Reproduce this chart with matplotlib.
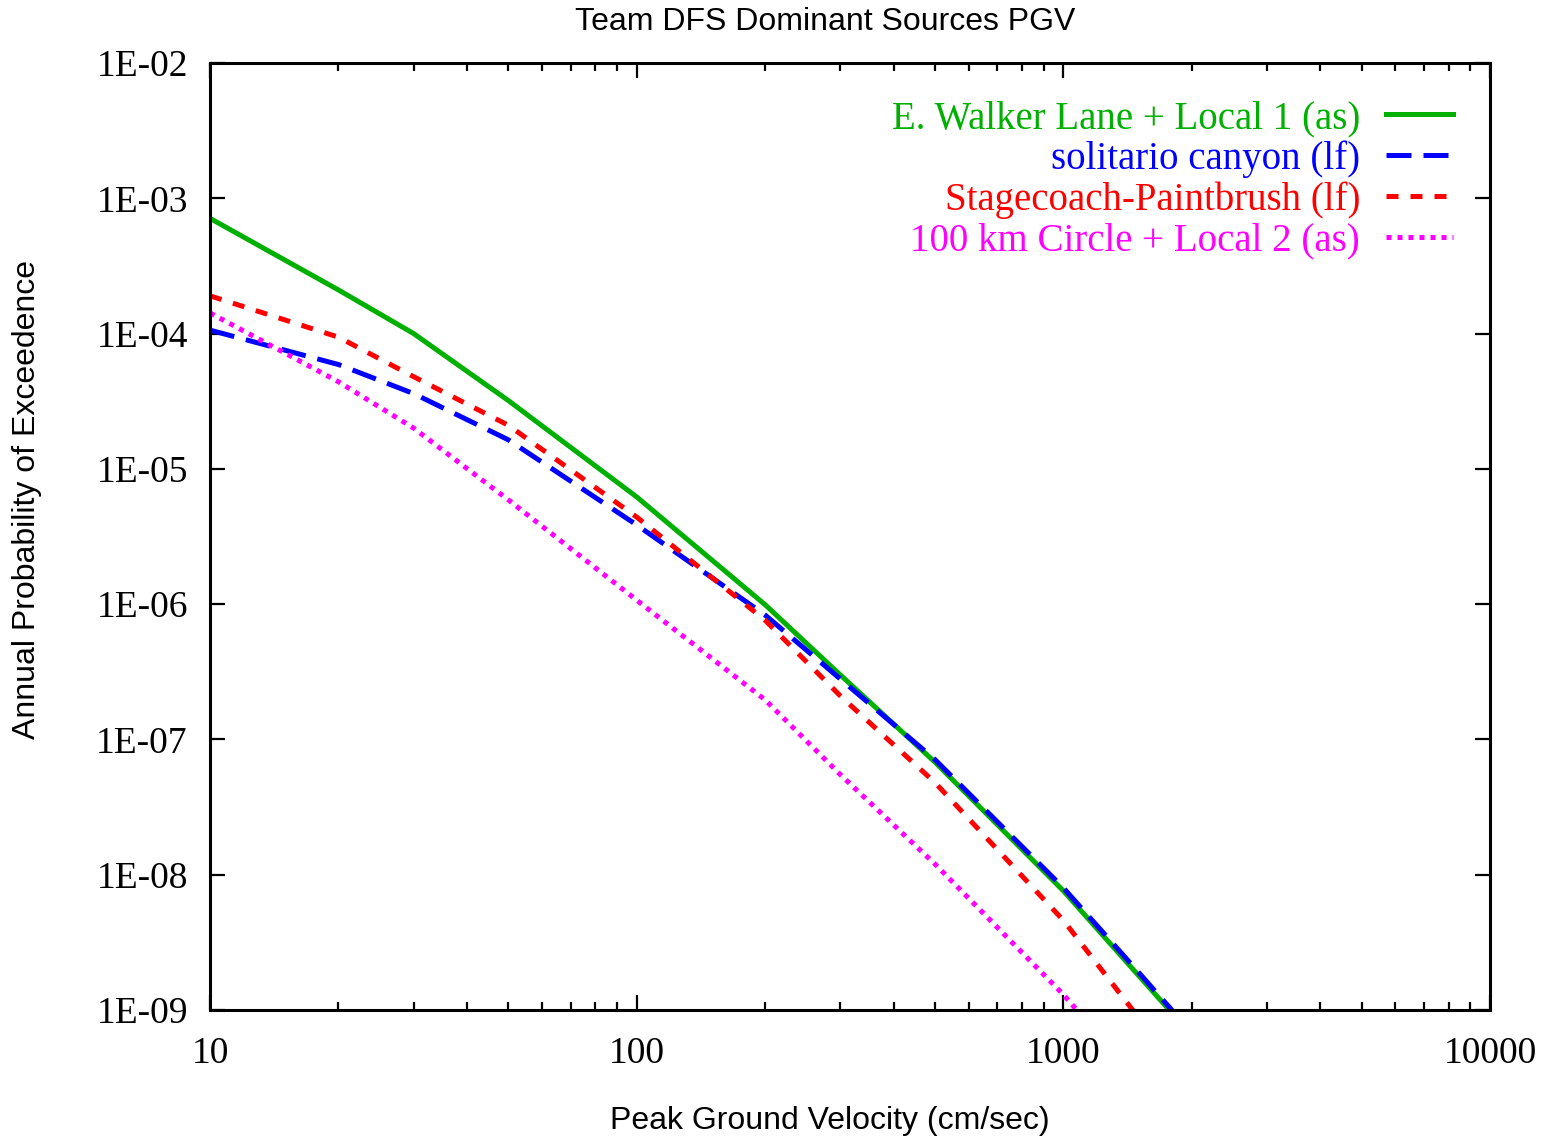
import math
import matplotlib
matplotlib.use('Agg')
import matplotlib.pyplot as plt
from matplotlib.ticker import FixedLocator, FuncFormatter, LogLocator, NullFormatter

pgv = [10, 20, 30, 50, 100, 200, 300, 500, 1000, 1500, 2000]

walker = [7.1e-4, 2.1e-4, 1.0e-4, 3.2e-5, 6.2e-6, 9.9e-7, 3.0e-7, 6.8e-8, 7.6e-9, 1.8e-9, 6.5e-10]
solitario = [1.06e-4, 5.9e-5, 3.6e-5, 1.64e-5, 3.85e-6, 8.3e-7, 2.8e-7, 7.1e-8, 8.0e-9, 1.9e-9, 6.8e-10]
stagecoach = [1.9e-4, 9.4e-5, 4.8e-5, 2.1e-5, 4.4e-6, 7.6e-7, 2.1e-7, 4.8e-8, 4.6e-9, 8.8e-10, 2.5e-10]
circle = [1.42e-4, 4.4e-5, 2.0e-5, 5.9e-6, 1.07e-6, 1.96e-7, 5.5e-8, 1.2e-8, 1.3e-9, 3.0e-10, 1.0e-10]

labels = ['E. Walker Lane + Local 1 (as)', 'solitario canyon (lf)',
          'Stagecoach-Paintbrush (lf)', '100 km Circle + Local 2 (as)']
colors = ['#00b000', '#0000ff', '#ff0000', '#ff00ff']
xtick_vals = [10, 100, 1000, 10000]
ytick_vals = [1e-2, 1e-3, 1e-4, 1e-5, 1e-6, 1e-7, 1e-8, 1e-9]

serif = 'Liberation Serif'
sans = 'Liberation Sans'

fig = plt.figure(figsize=(15.48, 11.39), dpi=100)
ax = fig.add_axes([0.1357, 0.1133, 0.8268, 0.8314])

lw = 3.6
ax.plot(pgv, walker, color=colors[0], lw=lw, label=labels[0])
ax.plot(pgv, solitario, color=colors[1], lw=lw, linestyle=(0, (5, 2.4)), label=labels[1])
ax.plot(pgv, stagecoach, color=colors[2], lw=lw, linestyle=(0, (2.4, 2.4)), label=labels[2])
ax.plot(pgv, circle, color=colors[3], lw=lw, linestyle=(0, (1, 1.2)), label=labels[3])

ax.set_xscale('log')
ax.set_yscale('log')
ax.set_xlim(10, 10000)
ax.set_ylim(1e-9, 1e-2)

ax.xaxis.set_major_locator(FixedLocator(xtick_vals))
ax.xaxis.set_major_formatter(FuncFormatter(lambda v, p: '%d' % round(v)))
ax.xaxis.set_minor_locator(LogLocator(base=10, subs=range(2, 10)))
ax.xaxis.set_minor_formatter(NullFormatter())
ax.yaxis.set_major_locator(FixedLocator(ytick_vals))
ax.yaxis.set_major_formatter(FuncFormatter(lambda v, p: '1E-%02d' % round(-math.log10(v))))
ax.yaxis.set_minor_locator(FixedLocator([]))

ax.tick_params(which='both', direction='in', top=True, right=True, width=1.6, colors='black')
ax.tick_params(which='major', length=11, labelsize=27)
ax.tick_params(which='minor', length=6)
ax.tick_params(axis='x', which='major', pad=19)
ax.tick_params(axis='y', which='major', pad=16)
for lab in ax.get_xticklabels() + ax.get_yticklabels():
    lab.set_fontfamily(serif)
for s in ax.spines.values():
    s.set_linewidth(2.2)

ax.set_xlabel('Peak Ground Velocity (cm/sec)', fontsize=23, fontfamily=sans)
ax.xaxis.set_label_coords(0.484, -0.101)
ax.set_ylabel('Annual Probability of Exceedence', fontsize=23, fontfamily=sans)
ax.yaxis.set_label_coords(-0.131, 0.539)
fig.text(825 / 1548, 1 - 22 / 1139, 'Team DFS Dominant Sources PGV', fontsize=23,
         fontfamily=sans, ha='center', va='center')

leg = ax.legend(loc='upper right', frameon=False, markerfirst=False, handlelength=1.72,
                handletextpad=0.67, labelspacing=0.09, borderaxespad=0.55,
                prop={'family': serif, 'size': 28})
for txt, c in zip(leg.get_texts(), colors):
    txt.set_color(c)

fig.savefig('out.png', dpi=100)
